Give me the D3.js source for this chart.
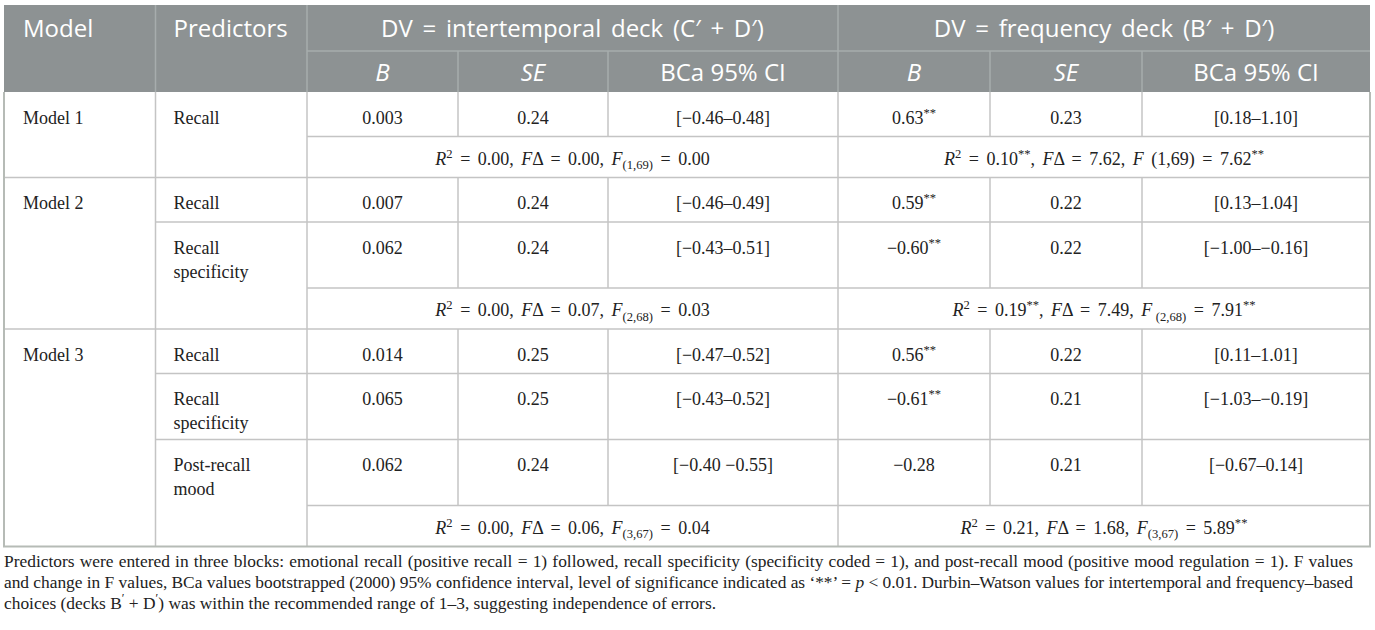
<!DOCTYPE html>
<html><head><meta charset="utf-8">
<script src="https://cdn.jsdelivr.net/npm/d3@7"></script>
<style>body{margin:0;background:#fff}svg{display:block}</style>
</head><body>
<script>
// ---------------- DATA ----------------
const models = ["Model 1", "Model 2", "Model 3"];
const predictorLines = [
  [["Recall"]],
  [["Recall"], ["Recall", "specificity"]],
  [["Recall"], ["Recall", "specificity"], ["Post-recall", "mood"]]
];
const groupTitles = ["DV = intertemporal deck (C\u2032 + D\u2032)", "DV = frequency deck (B\u2032 + D\u2032)"];
const subHeaders = ["B", "SE", "BCa 95% CI"];
const intB  = ["0.003", "0.007", "0.062", "0.014", "0.065", "0.062"];
const intSE = ["0.24", "0.24", "0.24", "0.25", "0.25", "0.24"];
const intCI = ["[\u22120.46\u20130.48]", "[\u22120.46\u20130.49]", "[\u22120.43\u20130.51]", "[\u22120.47\u20130.52]", "[\u22120.43\u20130.52]", "[\u22120.40 \u22120.55]"];
const freqB  = ["0.63**", "0.59**", "\u22120.60**", "0.56**", "\u22120.61**", "\u22120.28"];
const freqSE = ["0.23", "0.22", "0.22", "0.22", "0.21", "0.21"];
const freqCI = ["[0.18\u20131.10]", "[0.13\u20131.04]", "[\u22121.00\u2013\u22120.16]", "[0.11\u20131.01]", "[\u22121.03\u2013\u22120.19]", "[\u22120.67\u20130.14]"];
// model fit statistics
const intR2 = ["0.00", "0.00", "0.00"];
const intFD = ["0.00", "0.07", "0.06"];
const intDf = ["(1,69)", "(2,68)", "(3,67)"];
const intF  = ["0.00", "0.03", "0.04"];
const intDfStyle = ["sub", "sub", "sub"];
const freqR2 = ["0.10**", "0.19**", "0.21"];
const freqFD = ["7.62", "7.49", "1.68"];
const freqDf = ["(1,69)", "(2,68)", "(3,67)"];
const freqF  = ["7.62**", "7.91**", "5.89**"];
const freqDfStyle = ["inline", "spacesub", "sub"];
const footLines = [
  [{t: "Predictors were entered in three blocks: emotional recall (positive recall = 1) followed, recall specificity (specificity coded = 1), and post-recall mood (positive mood regulation = 1). F values"}],
  [{t: "and change in F values, BCa values bootstrapped (2000) 95% confidence interval, level of significance indicated as \u2018**\u2019 = "}, {t: "p", it: true}, {t: " < 0.01. Durbin\u2013Watson values for intertemporal and frequency\u2013based"}],
  [{t: "choices (decks B"}, {t: "\u2032", pos: "sup"}, {t: " + D"}, {t: "\u2032", pos: "sup"}, {t: ") was within the recommended range of 1\u20133, suggesting independence of errors."}]
];

// ---------------- LAYOUT ----------------
const W = 1375, H = 630;
const colKeys = ["model", "pred", "iB", "iSE", "iCI", "fB", "fSE", "fCI"];
const colEdges = [4, 155.5, 307, 458, 608, 838, 990, 1142, 1370];
const xL = d3.scaleOrdinal().domain(colKeys).range(colEdges.slice(0, -1));
const xR = d3.scaleOrdinal().domain(colKeys).range(colEdges.slice(1));
const xC = k => (xL(k) + xR(k)) / 2;
const headTop = 5, headSplit = 51, headBottom = 92;
const H1 = 44.5, H2 = 66, HS = 41;
const headerFill = "#8d9293", headerLine = "#a7acad", bodyLine = "#c4c4c4", borderCol = "#b6bbb6";
const serif = "'Liberation Serif','Times New Roman',serif";
const sans = "'Open Sans','Noto Sans',sans-serif";
const bodySize = 18, footSize = 17.4, headSize = 24;

// build rows
const rows = [];
let vi = 0;
models.forEach((m, mi) => {
  predictorLines[mi].forEach((lines, pi) => {
    rows.push({type: "val", mi, pi, lines, idx: vi++, last: pi === predictorLines[mi].length - 1, first: pi === 0});
  });
  rows.push({type: "stat", mi});
});
rows.forEach((r, i) => r.key = "r" + i);
const heights = rows.map(r => r.type === "stat" ? HS : (r.lines.length > 1 ? H2 : H1));
const tops = []; let acc = headBottom;
heights.forEach(h => { tops.push(acc); acc += h; });
const yT = d3.scaleOrdinal().domain(rows.map(r => r.key)).range(tops);
const yB = d3.scaleOrdinal().domain(rows.map(r => r.key)).range(tops.map((t, i) => t + heights[i]));
const tableBottom = acc;

const svg = d3.select("body").append("svg").attr("width", W).attr("height", H);

// ---------------- HEADER ----------------
svg.append("rect").attr("x", colEdges[0]).attr("y", headTop)
  .attr("width", colEdges[8] - colEdges[0]).attr("height", headBottom - headTop).attr("fill", headerFill);
const hl = svg.append("g").attr("stroke", headerLine).attr("stroke-width", 1.5);
hl.append("line").attr("x1", xL("iB")).attr("x2", xR("fCI")).attr("y1", headSplit).attr("y2", headSplit);
["pred", "iB", "fB"].forEach(k => hl.append("line").attr("x1", xL(k)).attr("x2", xL(k)).attr("y1", headTop).attr("y2", headBottom));
["iSE", "iCI", "fSE", "fCI"].forEach(k => hl.append("line").attr("x1", xL(k)).attr("x2", xL(k)).attr("y1", headSplit).attr("y2", headBottom));

const ht = svg.append("g").attr("fill", "#fff").attr("font-family", sans).attr("font-size", headSize);
ht.append("text").attr("x", xL("model") + 19).attr("y", 37).text("Model");
ht.append("text").attr("x", xL("pred") + 18).attr("y", 37).text("Predictors");
[["iB", "iCI"], ["fB", "fCI"]].forEach((g, gi) => {
  ht.append("text").attr("x", (xL(g[0]) + xR(g[1])) / 2).attr("y", 37).attr("text-anchor", "middle")
    .attr("word-spacing", 3.5).text(groupTitles[gi]);
});
[["iB", "iSE", "iCI"], ["fB", "fSE", "fCI"]].forEach(g => {
  g.forEach((k, j) => {
    ht.append("text").attr("x", xC(k)).attr("y", 81).attr("text-anchor", "middle")
      .attr("font-style", j < 2 ? "italic" : null).text(subHeaders[j]);
  });
});

// ---------------- BODY LINES ----------------
const bl = svg.append("g").attr("stroke", bodyLine).attr("stroke-width", 1.5);
rows.forEach((r, i) => {
  const yb = yB(r.key);
  if (r.type === "stat") {
    if (i < rows.length - 1) bl.append("line").attr("x1", colEdges[0]).attr("x2", colEdges[8]).attr("y1", yb).attr("y2", yb);
  } else {
    const x1 = r.last ? xL("iB") : xL("pred");
    bl.append("line").attr("x1", x1).attr("x2", colEdges[8]).attr("y1", yb).attr("y2", yb);
    ["iSE", "iCI", "fSE", "fCI"].forEach(k => bl.append("line").attr("x1", xL(k)).attr("x2", xL(k)).attr("y1", yT(r.key)).attr("y2", yb));
  }
});
["pred", "iB", "fB"].forEach(k => bl.append("line").attr("x1", xL(k)).attr("x2", xL(k)).attr("y1", headBottom).attr("y2", tableBottom));
svg.append("path").attr("fill", "none").attr("stroke", borderCol).attr("stroke-width", 2)
  .attr("d", `M${colEdges[0]},${headBottom}V${tableBottom}H${colEdges[8]}V${headBottom}`);

// ---------------- RICH TEXT HELPER ----------------
function rich(sel, segs, size) {
  let cur = 0;
  segs.forEach(s => {
    const want = s.pos === "sup" ? -size * 0.38 : s.pos === "sub" ? size * 0.25 : 0;
    const ts = sel.append("tspan").attr("dy", want - cur).text(s.t);
    if (s.it) ts.attr("font-style", "italic");
    if (s.pos) ts.attr("font-size", size * 0.7);
    cur = want;
  });
}
function sigSegs(v) {
  const parts = v.split("**");
  const s = [{t: parts[0]}];
  if (parts.length > 1) s.push({t: "**", pos: "sup"});
  return s;
}

// ---------------- BODY TEXT ----------------
const bt = svg.append("g").attr("fill", "#222").attr("font-family", serif).attr("font-size", bodySize);
rows.forEach(r => {
  const top = yT(r.key);
  if (r.type === "val") {
    const base = top + 31.5;
    if (r.first) bt.append("text").attr("x", xL("model") + 19).attr("y", base).text(models[r.mi]);
    r.lines.forEach((ln, li) => bt.append("text").attr("x", xL("pred") + 18).attr("y", base + li * 24).text(ln));
    const vals = [["iB", intB], ["iSE", intSE], ["iCI", intCI], ["fB", freqB], ["fSE", freqSE], ["fCI", freqCI]];
    vals.forEach(([k, arr]) => {
      const t = bt.append("text").attr("x", xC(k)).attr("y", base).attr("text-anchor", "middle");
      rich(t, sigSegs(arr[r.idx]), bodySize);
    });
  } else {
    const base = top + 28;
    const m = r.mi;
    const build = (r2, fd, df, f, style) => {
      const s = [{t: "R", it: true}, {t: "2", pos: "sup"}];
      sigSegs(" = " + r2).forEach(x => s.push(x));
      s.push({t: ", "}, {t: "F", it: true}, {t: "\u0394 = " + fd + ", "}, {t: "F", it: true});
      if (style === "inline") s.push({t: " " + df});
      else { if (style === "spacesub") s.push({t: "\u2009"}); s.push({t: df, pos: "sub"}); }
      sigSegs(" = " + f).forEach(x => s.push(x));
      return s;
    };
    const t1 = bt.append("text").attr("x", (xL("iB") + xR("iCI")) / 2).attr("y", base)
      .attr("text-anchor", "middle").attr("word-spacing", 3);
    rich(t1, build(intR2[m], intFD[m], intDf[m], intF[m], intDfStyle[m]), bodySize);
    const t2 = bt.append("text").attr("x", (xL("fB") + xR("fCI")) / 2).attr("y", base)
      .attr("text-anchor", "middle").attr("word-spacing", 3);
    rich(t2, build(freqR2[m], freqFD[m], freqDf[m], freqF[m], freqDfStyle[m]), bodySize);
  }
});

// ---------------- FOOTNOTE ----------------
const ft = svg.append("g").attr("fill", "#222").attr("font-family", serif).attr("font-size", footSize);
const footBase = [567, 588, 609];
const justifyTo = 1353;
footLines.forEach((segs, i) => {
  const t = ft.append("text").attr("x", colEdges[0]).attr("y", footBase[i]);
  rich(t, segs, footSize);
  if (i < footLines.length - 1) {
    const node = t.node();
    const nat = node.getComputedTextLength();
    const spaces = segs.map(s => s.t).join("").split(" ").length - 1;
    const target = justifyTo - colEdges[0];
    if (spaces > 0 && nat < target) {
      t.attr("word-spacing", (target - nat) / spaces);
      const after = node.getComputedTextLength();
      if (Math.abs(after - nat) < 1) t.attr("textLength", target).attr("lengthAdjust", "spacing");
    } else if (nat > target) {
      t.attr("textLength", target).attr("lengthAdjust", "spacing");
    }
  }
});
</script>
</body></html>
